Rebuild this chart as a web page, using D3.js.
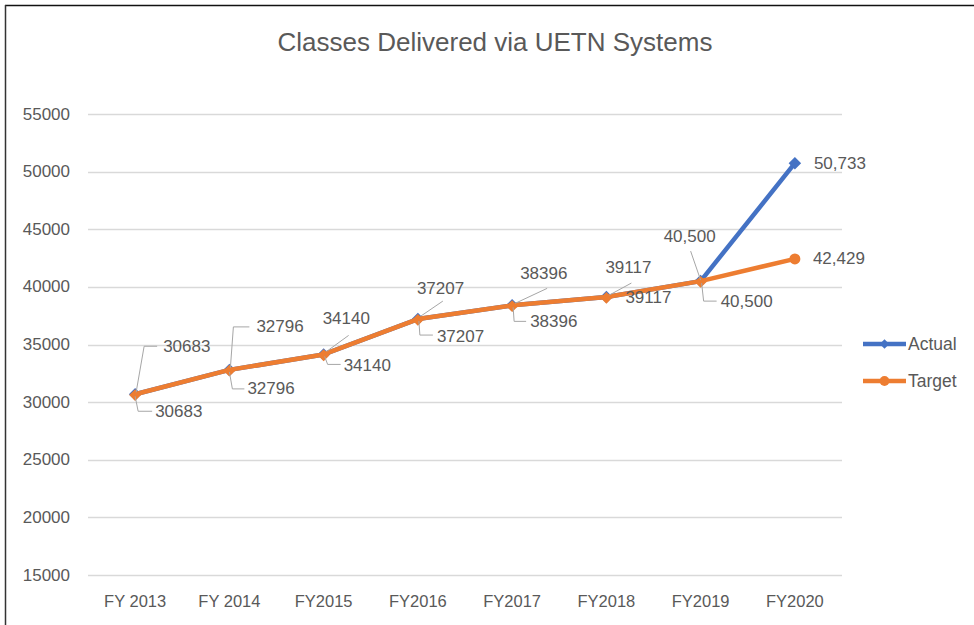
<!DOCTYPE html>
<html>
<head>
<meta charset="utf-8">
<script src="https://cdn.jsdelivr.net/npm/d3@7"></script>
<style>
  body { margin: 0; background: #fff; }
  text { font-family: "Liberation Sans", Arial, sans-serif; fill: #595959; }
</style>
</head>
<body>
<svg id="chart" width="974" height="625"></svg>
<script>
const categories = ["FY 2013", "FY 2014", "FY2015", "FY2016", "FY2017", "FY2018", "FY2019", "FY2020"];
const actual = [30683, 32796, 34140, 37207, 38396, 39117, 40500, 50733];
const target = [30683, 32796, 34140, 37207, 38396, 39117, 40500, 42429];
const actualLabels = ["30683", "32796", "34140", "37207", "38396", "39117", "40,500", "50,733"];
const targetLabels = ["30683", "32796", "34140", "37207", "38396", "39117", "40,500", "42,429"];
const yTicks = [15000, 20000, 25000, 30000, 35000, 40000, 45000, 50000, 55000];

// label placement relative to each point: text offset and leader line
const actualPlace = [
  { t: [28, -48], l: [[1, -2], [9, -48], [22, -48]] },
  { t: [27, -43], l: [[1, -2], [4, -43], [20, -43]] },
  { t: [-1, -36], l: [[3, -3], [25, -19]] },
  { t: [-1, -31], l: [[3, -3], [25, -18]] },
  { t: [8, -32], l: [[3, -2], [35, -17]] },
  { t: [-1, -30], l: [[3, -2], [25, -14]] },
  { t: [-37, -45], l: [[0, -1], [-10, -30]] },
  { t: [19, 0], l: null }
];
const targetPlace = [
  { t: [20, 17], l: [[0, 2], [3, 17], [17, 17]] },
  { t: [18, 19], l: [[0, 2], [3, 19], [15, 19]] },
  { t: [20, 11], l: [[1, 2], [4, 10], [17, 10]] },
  { t: [19, 17], l: [[1, 2], [2, 16], [15, 16]] },
  { t: [18, 16], l: [[1, 2], [2, 16], [14, 16]] },
  { t: [19, 0], l: null },
  { t: [20, 20], l: [[1, 2], [3, 20], [16, 20]] },
  { t: [18, 0], l: null }
];

const BLUE = "#4472C4";
const ORANGE = "#ED7D31";

const svg = d3.select("#chart");

// frame
svg.append("line").attr("x1", 5).attr("x2", 974).attr("y1", 5.5).attr("y2", 5.5)
  .attr("stroke", "#111").attr("stroke-width", 1.5);
svg.append("line").attr("x1", 5.5).attr("x2", 5.5).attr("y1", 5).attr("y2", 625)
  .attr("stroke", "#333").attr("stroke-width", 1.5);

const x = d3.scaleBand().domain(categories).range([88, 842]).padding(0);
const y = d3.scaleLinear().domain([15000, 55000]).range([575, 114]);
const cx = i => x(categories[i]) + x.bandwidth() / 2;

// title
svg.append("text")
  .attr("x", 495).attr("y", 51)
  .attr("text-anchor", "middle")
  .style("font-size", "26px")
  .text("Classes Delivered via UETN Systems");

// gridlines + y labels
svg.append("g").selectAll("line")
  .data(yTicks)
  .join("line")
  .attr("x1", 88).attr("x2", 842)
  .attr("y1", d => Math.round(y(d)) + 0.5).attr("y2", d => Math.round(y(d)) + 0.5)
  .attr("stroke", "#d9d9d9").attr("stroke-width", 1.3);

svg.append("g").selectAll("text")
  .data(yTicks)
  .join("text")
  .attr("x", 70).attr("y", d => y(d))
  .attr("text-anchor", "end")
  .attr("dominant-baseline", "central")
  .style("font-size", "17px")
  .text(d => d);

// x labels
svg.append("g").selectAll("text")
  .data(categories)
  .join("text")
  .attr("x", (d, i) => cx(i)).attr("y", 601)
  .attr("text-anchor", "middle")
  .attr("dominant-baseline", "central")
  .style("font-size", "16.5px")
  .text(d => d);

// leaders + labels
function drawLabels(values, labels, place) {
  const g = svg.append("g");
  values.forEach((v, i) => {
    const px = cx(i), py = y(v), p = place[i];
    if (p.l) {
      g.append("path")
        .attr("d", d3.line()(p.l.map(([dx, dy]) => [px + dx, py + dy])))
        .attr("fill", "none").attr("stroke", "#a6a6a6").attr("stroke-width", 1);
    }
    g.append("text")
      .attr("x", px + p.t[0]).attr("y", py + p.t[1])
      .attr("dominant-baseline", "central")
      .style("font-size", "17px")
      .text(labels[i]);
  });
}

const line = d3.line().x((d, i) => cx(i)).y(d => y(d));
const diamond = size => d3.symbol().type(d3.symbolSquare).size(size)();
const circle = size => d3.symbol().type(d3.symbolCircle).size(size)();

// actual series
svg.append("path").datum(actual)
  .attr("d", line).attr("fill", "none")
  .attr("stroke", BLUE).attr("stroke-width", 4.5).attr("stroke-linejoin", "round");
svg.append("g").selectAll("path")
  .data(actual)
  .join("path")
  .attr("d", diamond(78))
  .attr("transform", (d, i) => `translate(${cx(i)},${y(d)}) rotate(45)`)
  .attr("fill", BLUE);

// target series
svg.append("path").datum(target)
  .attr("d", line).attr("fill", "none")
  .attr("stroke", ORANGE).attr("stroke-width", 4.5).attr("stroke-linejoin", "round");
svg.append("g").selectAll("path")
  .data(target)
  .join("path")
  .attr("d", (d, i) => i === target.length - 1 ? circle(95) : diamond(70))
  .attr("transform", (d, i) => i === target.length - 1
    ? `translate(${cx(i)},${y(d)})`
    : `translate(${cx(i)},${y(d) + 0.8}) rotate(45)`)
  .attr("fill", ORANGE);

drawLabels(actual, actualLabels, actualPlace);
drawLabels(target, targetLabels, targetPlace);

// legend
const legend = [{ name: "Actual", color: BLUE, y: 344, shape: "d" }, { name: "Target", color: ORANGE, y: 381, shape: "c" }];
const lg = svg.append("g").selectAll("g").data(legend).join("g")
  .attr("transform", d => `translate(863,${d.y})`);
lg.append("line").attr("x1", 0).attr("x2", 43)
  .attr("stroke", d => d.color).attr("stroke-width", 4.5);
lg.append("path").attr("d", d => d.shape === "d" ? diamond(45) : circle(75))
  .attr("transform", d => d.shape === "d" ? "translate(21.5,0) rotate(45)" : "translate(21.5,0)")
  .attr("fill", d => d.color);
lg.append("text").attr("x", 45).attr("dominant-baseline", "central")
  .style("font-size", "17.5px").text(d => d.name);
</script>
</body>
</html>
